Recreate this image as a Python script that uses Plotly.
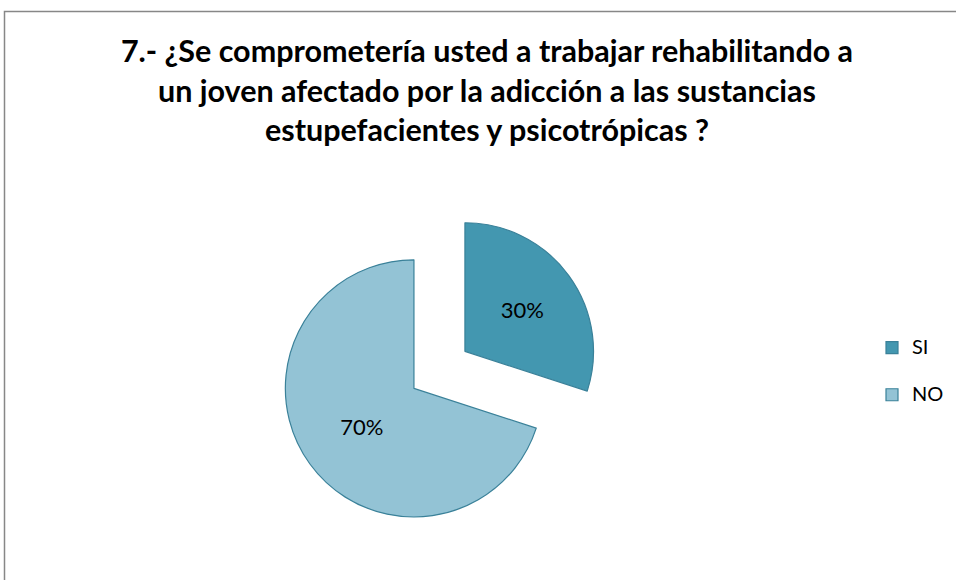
import plotly.graph_objects as go

labels = ["SI", "NO"]
values = [30, 70]
colors = ["#4397B0", "#93C3D5"]
pulls = [0.49, 0]
title_text = ("7.- ¿Se comprometería usted a trabajar rehabilitando a<br>"
              "un joven afectado por la adicción a las sustancias<br>"
              "estupefacientes y psicotrópicas ?")

W, H = 956, 580
FONT = "Lato, Open Sans, sans-serif"

legend_labels = ["<span style='font-size:20px'>%s</span><br> " % l for l in labels]

fig = go.Figure(go.Pie(
    labels=legend_labels,
    values=values,
    sort=False,
    direction="clockwise",
    rotation=0,
    pull=pulls,
    marker=dict(colors=colors, line=dict(color="#3A8199", width=1.2)),
    textinfo="percent",
    texttemplate="%{percent:.0%}",
    textposition="inside",
    insidetextorientation="horizontal",
    textfont=dict(family=FONT, size=22, color="#000000"),
    domain=dict(x=[0.2, 0.666], y=[0.0, 0.6607]),
    customdata=labels,
    hovertemplate="%{customdata}: %{percent:.0%}<extra></extra>",
))

fig.update_layout(
    width=W, height=H,
    margin=dict(l=0, r=0, t=0, b=0, autoexpand=False),
    paper_bgcolor="white",
    plot_bgcolor="white",
    title=dict(
        text="<b>" + title_text + "</b>",
        x=487 / W, xanchor="center",
        y=1 - 62 / H, yanchor="top",
        font=dict(family=FONT, size=30.5, color="#000000"),
    ),
    legend=dict(
        x=872 / W, xanchor="left",
        y=1 - 330 / H, yanchor="top",
        valign="top",
        font=dict(family=FONT, size=17, color="#000000"),
        bgcolor="rgba(0,0,0,0)",
    ),
    shapes=[dict(
        type="rect", xref="paper", yref="paper",
        x0=4.5 / W, y0=-0.05, x1=1.05, y1=1 - 11.5 / H,
        line=dict(color="#878787", width=1.5),
        fillcolor="rgba(0,0,0,0)",
        layer="below",
    )],
)

fig.write_html(
    "out.html",
    config={"displayModeBar": False},
    post_script="document.body.style.margin='0';document.body.style.overflow='hidden';",
)
